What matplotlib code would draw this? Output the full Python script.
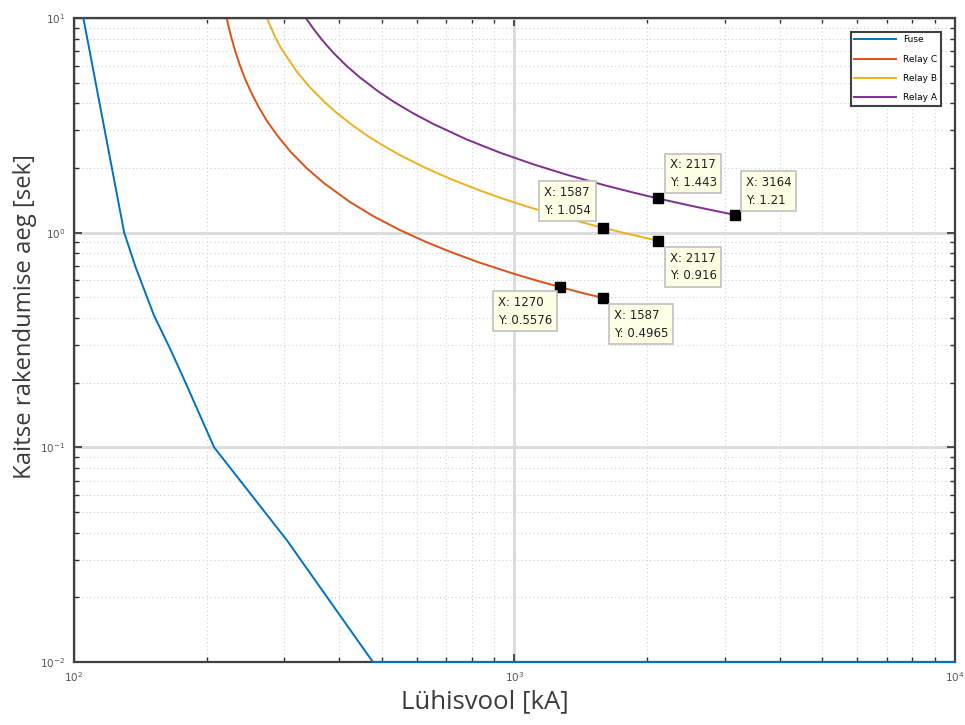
import matplotlib
matplotlib.use("Agg")
import numpy as np
from matplotlib import pyplot as plt
from matplotlib.ticker import LogLocator, NullFormatter

# --- values
fuse_i = [105, 130, 138, 152, 165, 178, 208, 304, 477, 10000]
fuse_t = [10, 1.0, 0.69, 0.41, 0.29, 0.206, 0.1, 0.037, 0.01, 0.01]

relC_i = [222, 227, 232, 238, 245, 253, 262, 274, 290, 310, 338, 370, 423, 480, 550,
          630, 714, 835, 1000, 1130, 1270, 1420, 1587]
relC_t = [10, 8.28, 7.07, 6.02, 5.16, 4.46, 3.88, 3.32, 2.82, 2.385, 1.99, 1.696, 1.39, 1.188, 1.027,
          0.905, 0.815, 0.724, 0.642, 0.596, 0.5576, 0.525, 0.4965]

relB_i = [274, 285, 295, 304, 320, 343, 370, 395, 430, 462, 500, 550, 620, 714,
          835, 927, 1050, 1200, 1387, 1587, 1800, 2117]
relB_t = [10, 8.3, 7.25, 6.6, 5.65, 4.76, 4.07, 3.61, 3.15, 2.84, 2.565, 2.296, 2.028, 1.783,
          1.571, 1.455, 1.338, 1.23, 1.133, 1.054, 0.99, 0.916]

relA_i = [336, 350, 365, 388, 415, 446, 490, 531, 590, 654, 779, 927, 1100, 1314,
          1600, 1850, 2117, 2500, 2800, 3164]
relA_t = [10, 8.88, 7.94, 6.88, 6.0, 5.28, 4.556, 4.08, 3.587, 3.21, 2.717, 2.358, 2.086, 1.862,
          1.664, 1.542, 1.443, 1.338, 1.274, 1.21]

labels = ["Fuse", "Relay C", "Relay B", "Relay A"]
colors = ["#0072BD", "#D95319", "#EDB120", "#7E2F8E"]

# data tips
tips_x = [1587, 2117, 3164, 2117, 1270, 1587]
tips_y = [1.054, 1.443, 1.21, 0.916, 0.5576, 0.4965]
tips_txt = ["X: 1587\nY: 1.054", "X: 2117\nY: 1.443", "X: 3164\nY: 1.21",
            "X: 2117\nY: 0.916", "X: 1270\nY: 0.5576", "X: 1587\nY: 0.4965"]
tips_off = [(-8.5, 8), (8.5, 7), (8, 6), (8.5, -8), (-6, -6.5), (8, -8)]
tips_ha = ["right", "left", "left", "left", "right", "left"]
tips_va = ["bottom", "bottom", "bottom", "top", "top", "top"]

fig = plt.figure(figsize=(9.65, 7.25), dpi=100)
ax = fig.add_axes([0.0767, 0.0869, 0.9129, 0.8883])

series = [(fuse_i, fuse_t), (relC_i, relC_t), (relB_i, relB_t), (relA_i, relA_t)]
for (xs, ys), lab, col in zip(series, labels, colors):
    if lab == "Fuse":
        ax.plot(xs, ys, color=col, lw=1.4, label=lab, clip_on=False, zorder=3)
    else:
        ax.plot(xs, ys, color=col, lw=1.4, label=lab, zorder=2)

ax.plot(tips_x, tips_y, ls="none", marker="s", ms=6.5, color="black", zorder=4)

for x, y, t, off, ha, va in zip(tips_x, tips_y, tips_txt, tips_off, tips_ha, tips_va):
    ax.annotate(t, xy=(x, y), xytext=off, textcoords="offset points",
                ha=ha, va=va, multialignment="left", fontsize=8.5, linespacing=1.45,
                color="#202020",
                bbox=dict(boxstyle="square,pad=0.4", fc="#ffffe6", ec="#c0c0c0", lw=1.2),
                zorder=5)

ax.set_xscale("log")
ax.set_yscale("log")
ax.set_xlim(100, 10000)
ax.set_ylim(0.01, 10)

ax.xaxis.set_minor_locator(LogLocator(base=10, subs=np.arange(2, 10)))
ax.yaxis.set_minor_locator(LogLocator(base=10, subs=np.arange(2, 10)))
ax.xaxis.set_minor_formatter(NullFormatter())
ax.yaxis.set_minor_formatter(NullFormatter())

ax.grid(True, which="major", color="#dcdcdc", lw=2.2, ls="-")
ax.grid(True, which="minor", color="#d0d0d0", lw=0.8, ls=(0, (1, 2.5)))
ax.set_axisbelow(True)

ax.tick_params(which="both", direction="in", top=True, right=True, color="#303030")
ax.tick_params(which="major", length=6, width=1.2, labelsize=7.5, labelcolor="#555555", pad=6)
ax.tick_params(which="minor", length=3.5, width=1.0)
for s in ax.spines.values():
    s.set_color("#404040")
    s.set_linewidth(1.6)

ax.set_xlabel("Lühisvool [kA]", fontsize=18.5, family="Open Sans", color="#3a3a3a")
ax.set_ylabel("Kaitse rakendumise aeg [sek]", fontsize=17.2, family="Open Sans", color="#3a3a3a")
ax.xaxis.set_label_coords(0.4665, -0.043)
ax.yaxis.set_label_coords(-0.042, 0.537)

leg = ax.legend(loc="upper right", bbox_to_anchor=(0.9841, 0.9787), borderaxespad=0,
                fontsize=6.5, handlelength=4.6, labelspacing=1.15, fancybox=False,
                edgecolor="#404040", framealpha=1)
leg.get_frame().set_linewidth(1.5)

fig.savefig("out.png", dpi=100, facecolor="white")
